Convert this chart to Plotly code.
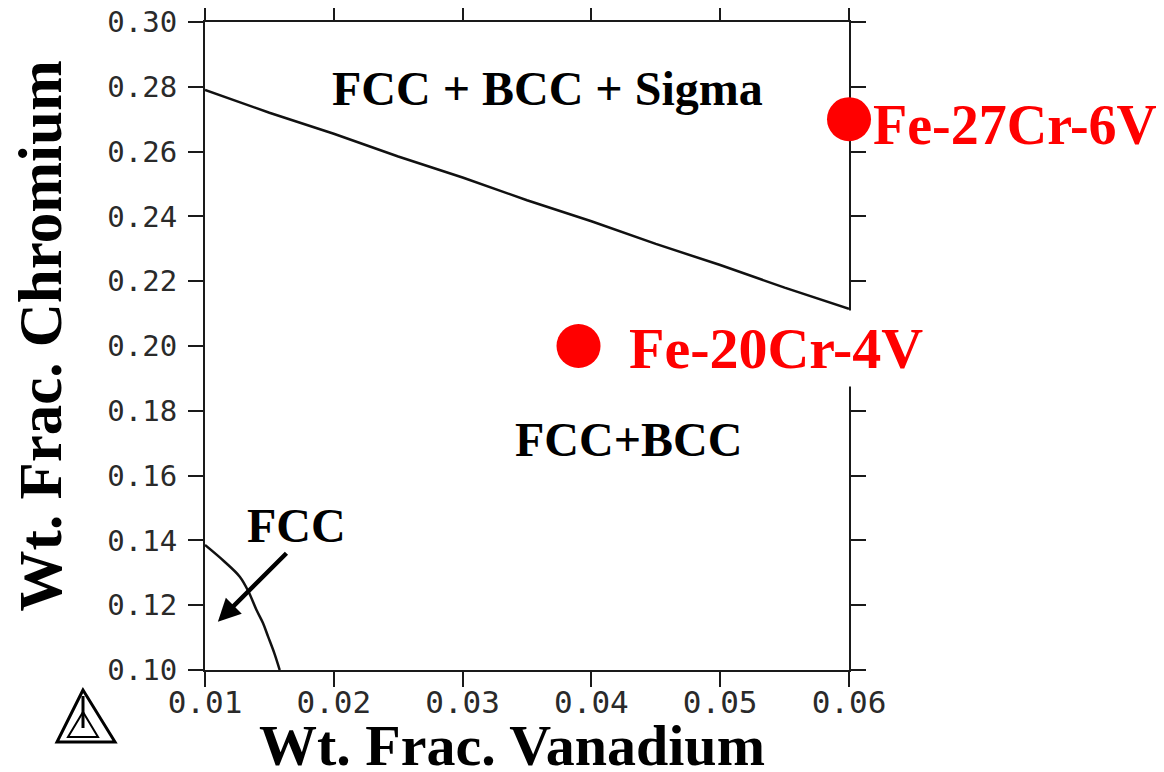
import plotly.graph_objects as go

# ---- data ----
x_ticks = [0.01, 0.02, 0.03, 0.04, 0.05, 0.06]
x_tick_labels = ["0.01", "0.02", "0.03", "0.04", "0.05", "0.06"]
y_ticks = [0.10, 0.12, 0.14, 0.16, 0.18, 0.20, 0.22, 0.24, 0.26, 0.28, 0.30]
y_tick_labels = ["0.10", "0.12", "0.14", "0.16", "0.18", "0.20",
                 "0.22", "0.24", "0.26", "0.28", "0.30"]

# sigma boundary (FCC+BCC / FCC+BCC+Sigma)
sigma_v = [0.010, 0.015, 0.020, 0.025, 0.030, 0.035, 0.040, 0.045, 0.050, 0.055, 0.060]
sigma_cr = [0.279, 0.272, 0.2655, 0.2585, 0.252, 0.245, 0.2385, 0.2315, 0.225, 0.218, 0.2115]

# FCC / FCC+BCC boundary
fcc_v = [0.0100, 0.0115, 0.0127, 0.0134, 0.0140, 0.0145, 0.0149, 0.0154, 0.0158]
fcc_cr = [0.1386, 0.1335, 0.1288, 0.1240, 0.1185, 0.1145, 0.1103, 0.1050, 0.1000]

# alloys
alloy_names = ["Fe-20Cr-4V", "Fe-27Cr-6V"]
alloy_v = [0.039, 0.060]
alloy_cr = [0.200, 0.270]

# phase region labels
region_names = ["FCC + BCC + Sigma", "FCC+BCC", "FCC"]
region_v = [0.0366, 0.0429, 0.0171]
region_cr = [0.2795, 0.1712, 0.1447]

# FCC arrow (tail -> head)
arrow_tail = (0.01644, 0.1365)
arrow_head = (0.0110, 0.1149)

SERIF = "Liberation Serif, Times New Roman, serif"
MONO = "DejaVu Sans Mono, Liberation Mono, monospace"

fig = go.Figure()

fig.add_trace(go.Scatter(x=sigma_v, y=sigma_cr, mode="lines",
                         line=dict(color="#111111", width=2.5), showlegend=False,
                         hoverinfo="skip"))
fig.add_trace(go.Scatter(x=fcc_v, y=fcc_cr, mode="lines",
                         line=dict(color="#111111", width=2.5, shape="spline"),
                         showlegend=False, hoverinfo="skip"))
fig.add_trace(go.Scatter(x=alloy_v, y=alloy_cr, mode="markers",
                         marker=dict(color="#ff0000", size=44, line=dict(width=0)),
                         cliponaxis=False, showlegend=False))

# region labels
for name, xv, yv in zip(region_names, region_v, region_cr):
    fig.add_annotation(x=xv, y=yv, xref="x", yref="y", text=name, showarrow=False,
                       font=dict(family=SERIF, size=48, color="black", weight="bold"),
                       xanchor="center", yanchor="middle")

# FCC arrow
fig.add_annotation(x=arrow_head[0], y=arrow_head[1], ax=arrow_tail[0], ay=arrow_tail[1],
                   xref="x", yref="y", axref="x", ayref="y", text="",
                   showarrow=True, arrowhead=2, arrowsize=1.0, arrowwidth=4.5,
                   arrowcolor="black", standoff=0)

# alloy labels
fig.add_annotation(x=alloy_v[0], y=alloy_cr[0], xref="x", yref="y", text=alloy_names[0],
                   showarrow=False, xanchor="left", yanchor="middle",
                   xshift=44, yshift=-2, bgcolor="white", borderpad=5,
                   font=dict(family=SERIF, size=58, color="#ff0000", weight="bold"))
fig.add_annotation(x=alloy_v[1], y=alloy_cr[1], xref="x", yref="y", text=alloy_names[1],
                   showarrow=False, xanchor="left", yanchor="middle",
                   xshift=22, yshift=-6,
                   font=dict(family=SERIF, size=56, color="#ff0000", weight="bold"))

# axis titles
fig.add_annotation(x=0.4767, y=-0.116, xref="paper", yref="paper",
                   text="Wt. Frac. Vanadium", showarrow=False,
                   xanchor="center", yanchor="middle",
                   font=dict(family=SERIF, size=58, color="black", weight="bold"))
fig.add_annotation(x=-0.256, y=0.515, xref="paper", yref="paper",
                   text="Wt. Frac. Chromium", showarrow=False, textangle=-90,
                   xanchor="center", yanchor="middle",
                   font=dict(family=SERIF, size=61, color="black", weight="bold"))

# Thermo-Calc style logo (decoration), positioned in paper units
def px(xp):
    return (xp - 205) / 644.0

def py(yp):
    return (670 - yp) / 648.0

logo_outer = f"M {px(83)} {py(690)} L {px(57)} {py(742)} L {px(115)} {py(742)} Z"
logo_inner = f"M {px(83)} {py(712)} L {px(68)} {py(737)} L {px(98)} {py(737)} Z"
logo_stem = f"M {px(83)} {py(696)} L {px(83)} {py(728)}"
for path, w in [(logo_outer, 3), (logo_inner, 2), (logo_stem, 3)]:
    fig.add_shape(type="path", path=path, xref="paper", yref="paper",
                  line=dict(color="black", width=w))

axis_common = dict(showgrid=False, zeroline=False, showline=True, linecolor="#1a1a1a",
                   linewidth=2, ticks="outside", ticklen=15, tickwidth=2,
                   tickcolor="#1a1a1a", mirror="allticks", layer="below traces",
                   automargin=False, ticklabeloverflow="allow")

fig.update_xaxes(range=[0.01, 0.06], tickvals=x_ticks, ticktext=x_tick_labels,
                 ticklabelstandoff=-11,
                 tickfont=dict(family=MONO, size=31, color="#2a2a2a"), **axis_common)
fig.update_yaxes(range=[0.10, 0.30], tickvals=y_ticks, ticktext=y_tick_labels,
                 ticklabelstandoff=5,
                 tickfont=dict(family=MONO, size=29, color="#2a2a2a"), **axis_common)

# page body has an 8px margin, so the figure is 8px smaller than the window
fig.update_layout(width=1156, height=764, autosize=False,
                  margin=dict(l=197, r=315, t=14, b=102),
                  paper_bgcolor="white", plot_bgcolor="white", showlegend=False)

fig.write_html("out.html")
